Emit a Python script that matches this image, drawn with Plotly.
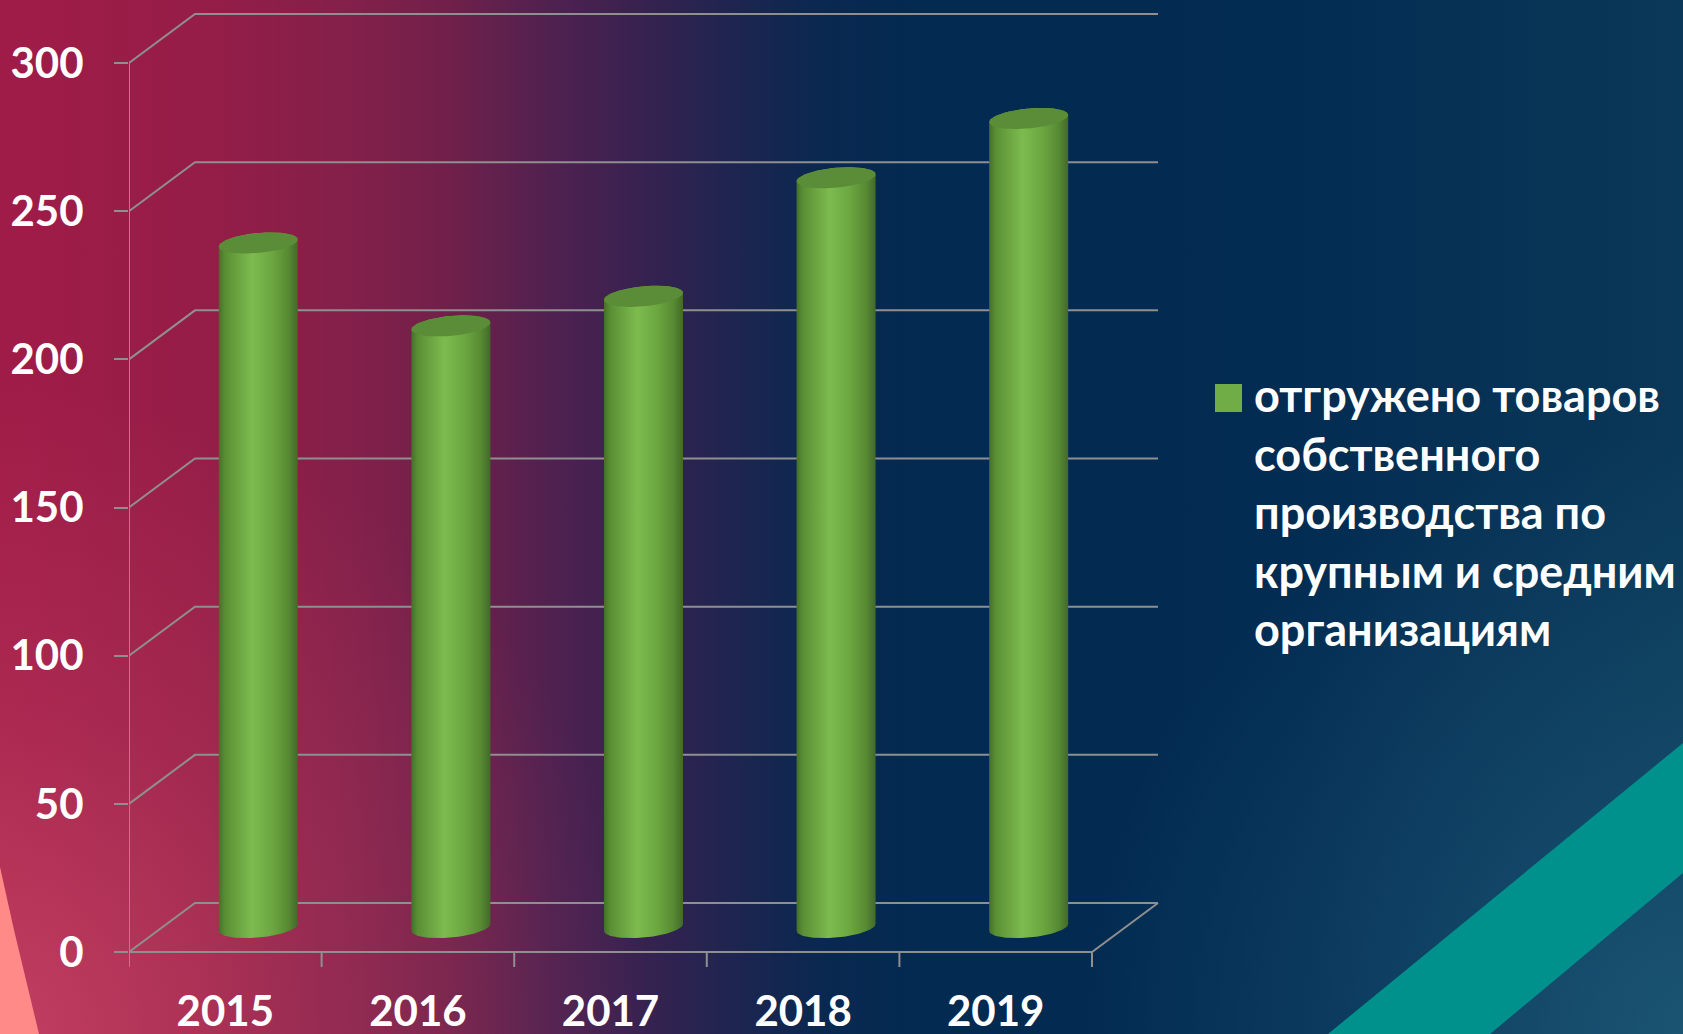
import numpy as np
import plotly.graph_objects as go

# ---------------- data ----------------
years = ["2015", "2016", "2017", "2018", "2019"]
values = [231, 203, 213, 253, 273]
y_ticks = [0, 50, 100, 150, 200, 250, 300]
legend_label = ("отгружено товаров<br>собственного<br>производства по<br>"
                "крупным и средним<br>организациям")

# ---------------- geometry / style ----------------
W, H = 1683, 1034
X0_PX, UNIT_X = 129, 192.6            # px per category
Y0_PX = 952
UNIT_Y = (952 - 63) / 300.0            # px per value unit
DEPTH_X = 66 / UNIT_X                  # 3D depth offset in axis units
DEPTH_Y = 49 / UNIT_Y
PLOT_L, PLOT_R, PLOT_T, PLOT_B = X0_PX, 1175, 4, 968
x_range = [0, (PLOT_R - X0_PX) / UNIT_X]
y_range = [-(PLOT_B - Y0_PX) / UNIT_Y, (Y0_PX - PLOT_T) / UNIT_Y]
GRID = "#8f8f8f"
FONT = "Lato"

fig = go.Figure()

# ---------------- background (pixel-space subplot x/y) ----------------
bg_scale = [[0.0, "#a01c48"], [200 / W, "#951d47"], [350 / W, "#83204a"],
            [450 / W, "#70204a"], [560 / W, "#4d2150"], [650 / W, "#352250"],
            [740 / W, "#1c2550"], [820 / W, "#0a2850"], [920 / W, "#032a50"],
            [1300 / W, "#032c52"], [1.0, "#0a3858"]]
fig.add_trace(go.Scatter(x=[0, W, W, 0, 0], y=[0, 0, H, H, 0], mode="lines",
                         fill="toself", line=dict(width=0),
                         fillgradient=dict(type="horizontal", colorscale=bg_scale),
                         hoverinfo="skip", showlegend=False, xaxis="x", yaxis="y"))
# pinkish glow bottom-left (radial, centred on the corner)
fig.add_trace(go.Scatter(x=[-650, 650, 650, -650, -650],
                         y=[1034 - 650, 1034 - 650, 1034 + 650, 1034 + 650, 1034 - 650],
                         mode="lines", fill="toself", line=dict(width=0),
                         fillgradient=dict(type="radial",
                                           colorscale=[[0, "rgba(240,110,130,0.42)"],
                                                       [0.5, "rgba(240,110,130,0.15)"],
                                                       [1, "rgba(240,110,130,0)"]]),
                         hoverinfo="skip", showlegend=False, xaxis="x", yaxis="y"))
# lighter teal-blue glow bottom-right
fig.add_trace(go.Scatter(x=[W - 600, W + 600, W + 600, W - 600, W - 600],
                         y=[H - 600, H - 600, H + 600, H + 600, H - 600],
                         mode="lines", fill="toself", line=dict(width=0),
                         fillgradient=dict(type="radial",
                                           colorscale=[[0, "rgba(40,105,135,0.55)"],
                                                       [1, "rgba(40,105,135,0)"]]),
                         hoverinfo="skip", showlegend=False, xaxis="x", yaxis="y"))
# salmon wedge
fig.add_trace(go.Scatter(x=[0, 14, 39, 0, 0], y=[867, 930, H, H, 867], mode="lines",
                         fill="toself", fillcolor="#ff8a88", line=dict(width=0),
                         hoverinfo="skip", showlegend=False, xaxis="x", yaxis="y"))
# teal stripe
fig.add_trace(go.Scatter(x=[1328, W, W, 1490, 1328], y=[H, 743, 873, H, H], mode="lines",
                         fill="toself", fillcolor="#00918c", line=dict(width=0),
                         hoverinfo="skip", showlegend=False, xaxis="x", yaxis="y"))

# ---------------- 3D frame (chart axes x2/y2) ----------------
n = len(years)
gx, gy = [], []
for v in y_ticks:
    # left wall diagonal + back wall line
    gx += [0, DEPTH_X, n + DEPTH_X, None]
    gy += [v, v + DEPTH_Y, v + DEPTH_Y, None]
# front floor edge and right floor diagonal
gx += [0, n, n + DEPTH_X, None]
gy += [0, 0, DEPTH_Y, None]
# front vertical axis
gx += [0, 0, None]
gy += [0, y_ticks[-1], None]
# category tick marks
tick_len = 15 / UNIT_Y
for i in range(n + 1):
    gx += [i, i, None]
    gy += [0, -tick_len, None]
fig.add_trace(go.Scatter(x=gx, y=gy, mode="lines", line=dict(color=GRID, width=2),
                         hoverinfo="skip", showlegend=False, xaxis="x2", yaxis="y2"))

# ---------------- cylinders ----------------
RX = 39.5 / UNIT_X
RY = 10 / UNIT_Y
TILT = 3.5 / UNIT_Y
body_scale = [[0.0, "#44702a"], [0.08, "#5a8f34"], [0.42, "#7dbb4f"],
              [0.68, "#6ba640"], [0.88, "#578a33"], [1.0, "#42692a"]]
th_low = np.linspace(np.pi, 2 * np.pi, 60)
th_up = np.linspace(0, np.pi, 60)
th_all = np.linspace(0, 2 * np.pi, 121)
for i, v in enumerate(values):
    cx = i + 0.5 + DEPTH_X / 2
    yb = DEPTH_Y / 2
    yt = v + DEPTH_Y / 2
    bx = np.concatenate([cx + RX * np.cos(th_low), cx + RX * np.cos(th_up)])
    by = np.concatenate([yb + RY * np.sin(th_low) + TILT * np.cos(th_low),
                         yt + RY * np.sin(th_up) + TILT * np.cos(th_up)])
    fig.add_trace(go.Scatter(x=np.append(bx, bx[0]), y=np.append(by, by[0]),
                             mode="lines", fill="toself", line=dict(width=0),
                             fillgradient=dict(type="horizontal", colorscale=body_scale),
                             hoverinfo="skip", showlegend=False,
                             xaxis="x2", yaxis="y2"))
    fig.add_trace(go.Scatter(x=cx + RX * np.cos(th_all),
                             y=yt + RY * np.sin(th_all) + TILT * np.cos(th_all),
                             mode="lines", fill="toself", fillcolor="#5b8c37",
                             line=dict(width=0), hoverinfo="skip", showlegend=False,
                             xaxis="x2", yaxis="y2"))

# ---------------- legend (square + text) ----------------
fig.add_shape(type="rect", xref="paper", yref="paper",
              x0=1215 / W, x1=1242 / W, y0=1 - 412 / H, y1=1 - 384 / H,
              fillcolor="#70ad47", line=dict(width=0))
fig.add_annotation(text=legend_label, xref="paper", yref="paper",
                   x=1252 / W, y=1 - 512 / H, xanchor="left", yanchor="middle",
                   align="left", showarrow=False,
                   font=dict(family=FONT, size=45, color="white", weight="bold"))

# ---------------- layout ----------------
fig.update_layout(
    width=W, height=H, autosize=False, margin=dict(l=0, r=0, t=0, b=0, pad=0),
    paper_bgcolor="#032a50", plot_bgcolor="rgba(0,0,0,0)",
    showlegend=False,
    xaxis=dict(domain=[0, 1], range=[0, W], visible=False, fixedrange=True,
               automargin=False),
    yaxis=dict(domain=[0, 1], range=[H, 0], visible=False, fixedrange=True,
               automargin=False),
    xaxis2=dict(domain=[PLOT_L / W, PLOT_R / W], range=x_range, anchor="y2",
                automargin=False,
                showgrid=False, zeroline=False, showline=False,
                tickmode="array", tickvals=[i + 0.5 for i in range(n)], ticktext=years,
                ticks="", ticklabelstandoff=15,
                tickfont=dict(family=FONT, size=42, color="white", weight="bold")),
    yaxis2=dict(domain=[1 - PLOT_B / H, 1 - PLOT_T / H], range=y_range, anchor="x2",
                automargin=False,
                showgrid=False, zeroline=False, showline=False,
                tickmode="array", tickvals=y_ticks,
                ticks="outside", ticklen=14, tickwidth=2, tickcolor=GRID,
                ticklabelstandoff=22,
                tickfont=dict(family=FONT, size=42, color="white", weight="bold")),
)

fig.write_html(
    "out.html",
    config={"responsive": False, "displayModeBar": False},
    post_script="document.body.style.margin='0';document.body.style.overflow='hidden';",
)
